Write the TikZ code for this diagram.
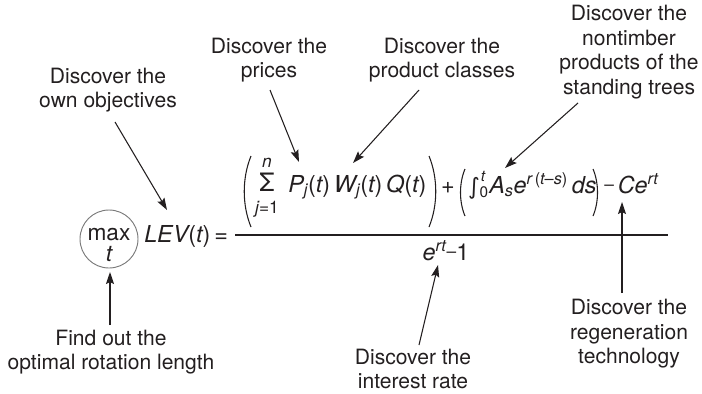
\documentclass[tikz,border=0pt]{standalone}
\usepackage{fontspec}
\usepackage{amsmath}
\setmainfont{TeX Gyre Heros}
\newfontfamily\dejavu{DejaVu Sans}
\usetikzlibrary{arrows.meta}
\definecolor{ink}{HTML}{231F20}
\definecolor{circgray}{HTML}{7A7A7A}
\newcommand\iv[1]{\text{\itshape #1}}
\newcommand\tx[1]{\text{#1}}
\newcommand\mns{\text{\raisebox{2.2pt}{\fontsize{13}{13}\selectfont\textendash}}}
\begin{document}
\begin{tikzpicture}[x=0.75pt,y=-0.75pt,
  lbl/.style={align=center,font=\fontsize{15.8}{18.4}\selectfont,text=ink,inner sep=0pt},
  eq/.style={font=\fontsize{17.5}{20}\selectfont,text=ink,inner sep=0pt},
  small/.style={font=\fontsize{13}{15}\selectfont,text=ink,inner sep=0pt},
  tiny/.style={font=\fontsize{11.5}{13}\selectfont,text=ink,inner sep=0pt},
  arr/.style={draw=ink,line width=0.8pt,-{Stealth[length=9pt,width=6pt,inset=1.5pt]}},
  rule/.style={draw=ink,line width=0.9pt},
  paren/.style={draw=ink,line width=0.8pt}]
\useasboundingbox (0,0) rectangle (702,393);
% labels
\node[lbl] (own) at (108,90) {Discover the\\own objectives};
\node[lbl] (pri) at (269,60) {Discover the\\prices};
\node[lbl] (cls) at (442,60) {Discover the\\product classes};
\node[lbl] (ntb) at (629,52) {Discover the\\nontimber\\products of the\\standing trees};
\node[lbl] (rot) at (111,352) {Find out the\\optimal rotation length};
\node[lbl] (int) at (413,369) {Discover the\\interest rate};
\node[lbl] (reg) at (629,334) {Discover the\\regeneration\\technology};
% max circle
\node[circle,draw=circgray,line width=0.7pt,minimum size=43.5pt,inner sep=0pt] (mx) at (109,239) {};
\node[eq,font=\fontsize{17}{17}\selectfont,anchor=base] (mxa) at (109,240) {max};
\node[eq,font=\fontsize{17}{17}\selectfont,anchor=base] (mxt) at (109,261) {\itshape t};
% equation
\node[eq,anchor=base west] (lev) at (144,242) {$\iv{LEV}\tx{(}\iv{t}\tx{)\,=}$};
\coordinate (fl) at (235,235);
\coordinate (fr) at (668,235);
\draw[rule] (fl) -- (fr);
\draw[paren] (251,156) .. controls (242,178) and (242,205) .. (251,227);
\draw[paren] (429,156) .. controls (438,178) and (438,205) .. (429,227);
\node[eq,anchor=base,font=\fontsize{19}{21}\selectfont] (sig) at (267,191) {Σ};
\node[small] (sn) at (267,163) {\itshape n};
\node[small] (sj) at (267,209) {\itshape j\upshape =1};
\node[eq,anchor=base west] (pwq) at (288,192) {$\iv{P}_{\iv{j}}\tx{(}\iv{t}\tx{)}\,\iv{W}_{\iv{j}}\tx{(}\iv{t}\tx{)}\,\iv{Q}\tx{(}\iv{t}\tx{)}$};
\node[eq] (plus) at (448,188) {+};
\draw[paren] (465,169) .. controls (459,183) and (459,202) .. (465,216);
\node[font=\dejavu\fontsize{17}{19}\selectfont,text=ink,inner sep=0pt,anchor=base] (intsym) at (474,194) {∫};
\node[tiny] (itop) at (483,176) {\itshape t};
\node[tiny] (ibot) at (484,192) {0};
\node[eq,anchor=base west] (aes) at (489,193) {$\iv{A}_{\iv{s}}\iv{e}^{\iv{r}\,\tx{(}\iv{t}\tx{\textendash}\iv{s}\tx{)}}\,\iv{ds}$};
\draw[paren] (593,169) .. controls (599,183) and (599,202) .. (593,216);
\node[eq,anchor=base west] (cert) at (604,193) {$\mns\,\iv{C}\iv{e}^{\iv{rt}}$};
\node[eq,anchor=base] (den) at (446,260) {$\iv{e}^{\iv{rt}}\mns\tx{1}$};
% arrows
\coordinate (sOwn) at (115,122);  \coordinate (tOwn) at (167,210);
\coordinate (sPri) at (270,90);   \coordinate (tPri) at (299,162);
\coordinate (sCls) at (419,90);   \coordinate (tCls) at (353,163);
\coordinate (sNtb) at (578,103);  \coordinate (tNtb) at (505,168);
\coordinate (sReg) at (622,293);  \coordinate (tReg) at (622,202);
\coordinate (sInt) at (419,345);  \coordinate (tInt) at (438,265);
\coordinate (sRot) at (110,325);  \coordinate (tRot) at (110,272);
\draw[arr] (sOwn) -- (tOwn);
\draw[arr] (sPri) -- (tPri);
\draw[arr] (sCls) -- (tCls);
\draw[arr] (sNtb) -- (tNtb);
\draw[arr] (sReg) -- (tReg);
\draw[arr] (sInt) -- (tInt);
\draw[arr] (sRot) -- (tRot);
\end{tikzpicture}
\end{document}
